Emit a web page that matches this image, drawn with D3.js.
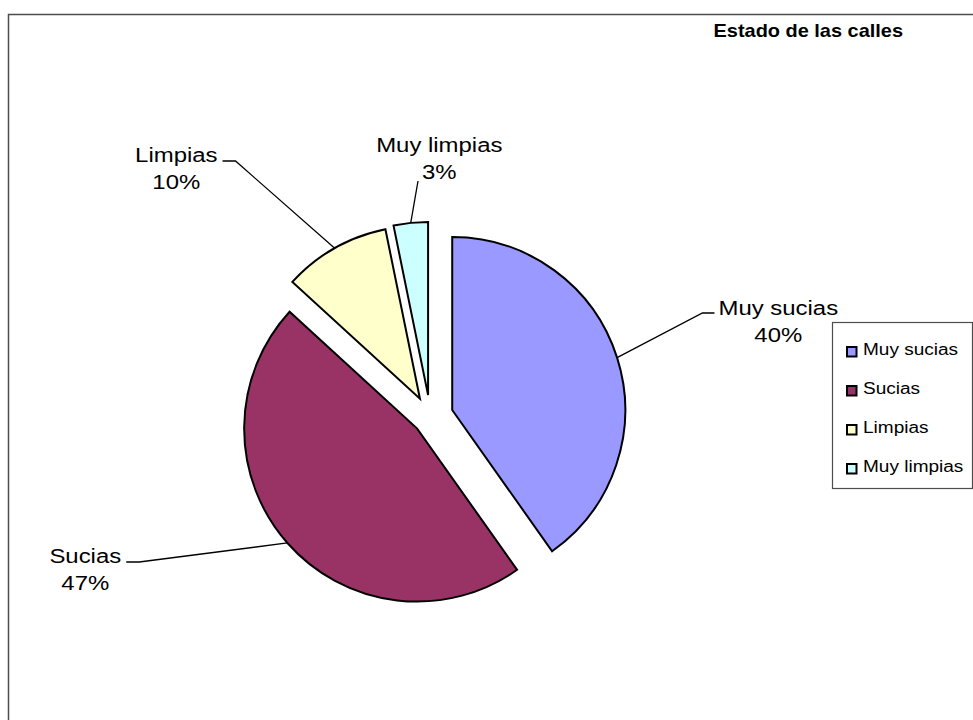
<!DOCTYPE html>
<html>
<head>
<meta charset="utf-8">
<script src="https://cdn.jsdelivr.net/npm/d3@7"></script>
<style>
  body { margin: 0; background: #fff; }
  svg { display: block; font-family: "Liberation Sans", Arial, sans-serif; }
</style>
</head>
<body>
<svg id="chart" width="973" height="720"></svg>
<script>
// data
var categories = ["Muy sucias", "Sucias", "Limpias", "Muy limpias"];
var values = [40.2, 46.6, 10.0, 3.2];
var colors = ["#9999FF", "#993366", "#FFFFCC", "#CCFFFF"];
var title = "Estado de las calles";

// layout (pixels)
var pieCenter = [430.3, 417];
var radius = 173;
var explode = [23, 17.5, 21, 22];
// label block centre relative to pie centre (first baseline)
var labelOffset = [[348, -102], [-345, 146], [-254, -255], [9, -265]];
var textStretch = 1.14;

var svg = d3.select("#chart");

// chart border
svg.append("rect")
    .attr("x", 8.5).attr("y", 14.5)
    .attr("width", 1000).attr("height", 1000)
    .attr("fill", "none").attr("stroke", "#4d4d4d").attr("stroke-width", 1.5);

svg.append("text")
    .attr("transform", "translate(903,37) scale(" + textStretch + ",1)")
    .attr("text-anchor", "end")
    .attr("font-size", 17.5).attr("font-weight", "bold")
    .text(title);

var total = d3.sum(values);
var pie = d3.pie().sort(null).value(function (d) { return d; });
var arcs = pie(values);
var arc = d3.arc().innerRadius(0).outerRadius(radius);
var rimArc = d3.arc().innerRadius(radius).outerRadius(radius);

var g = svg.append("g").attr("transform", "translate(" + pieCenter[0] + "," + pieCenter[1] + ")");

function shift(d, i) {
    var mid = (d.startAngle + d.endAngle) / 2;
    return [Math.sin(mid) * explode[i], -Math.cos(mid) * explode[i]];
}

g.selectAll("path.slice").data(arcs).enter().append("path")
    .attr("class", "slice")
    .attr("transform", function (d, i) {
        var s = shift(d, i);
        return "translate(" + s[0] + "," + s[1] + ")";
    })
    .attr("d", arc)
    .attr("fill", function (d, i) { return colors[i]; })
    .attr("stroke", "#000").attr("stroke-width", 2).attr("stroke-linejoin", "miter");

// data labels with leader lines
var lineHeight = 27;
arcs.forEach(function (d, i) {
    var s = shift(d, i);
    var rim = rimArc.centroid(d);
    var px = rim[0] + s[0], py = rim[1] + s[1];
    var lx = labelOffset[i][0], ly = labelOffset[i][1];
    var lines = [categories[i], Math.round(values[i] / total * 100) + "%"];
    var widths = [];
    lines.forEach(function (t, k) {
        var txt = g.append("text")
            .attr("transform", "translate(" + lx + "," + (ly + k * lineHeight) + ") scale(" + textStretch + ",1)")
            .attr("text-anchor", "middle")
            .attr("font-size", 21)
            .text(t);
        widths.push(txt.node().getComputedTextLength() * textStretch);
    });
    var pts;
    if (lx > px + 40) {
        var ex = lx - widths[0] / 2 - 4, ey = ly - 2;
        pts = [[px, py], [ex - 12, ey], [ex, ey]];
    } else if (lx < px - 40) {
        var ex2 = lx + widths[0] / 2 + 5, ey2 = ly - 1;
        pts = [[px, py], [ex2 + 13, ey2], [ex2, ey2]];
    } else {
        pts = [[px, py], [lx - widths[1] / 2 - 4, ly + lineHeight + 2]];
    }
    g.append("path")
        .attr("d", d3.line()(pts))
        .attr("fill", "none").attr("stroke", "#000").attr("stroke-width", 1.3);
});

// legend
var legend = svg.append("g").attr("transform", "translate(832,322)");
legend.append("rect")
    .attr("x", 0.5).attr("y", 0.5).attr("width", 140).attr("height", 166)
    .attr("fill", "#fff").attr("stroke", "#4d4d4d").attr("stroke-width", 1.2);
var item = legend.selectAll("g.item").data(categories).enter().append("g")
    .attr("class", "item")
    .attr("transform", function (d, i) { return "translate(0," + (i * 39) + ")"; });
item.append("rect")
    .attr("x", 15).attr("y", 25).attr("width", 9.5).attr("height", 9.5)
    .attr("fill", function (d, i) { return colors[i]; })
    .attr("stroke", "#000").attr("stroke-width", 2);
item.append("text")
    .attr("transform", "translate(31,33) scale(1.16,1)")
    .attr("font-size", 16.4)
    .text(function (d) { return d; });
</script>
</body>
</html>
